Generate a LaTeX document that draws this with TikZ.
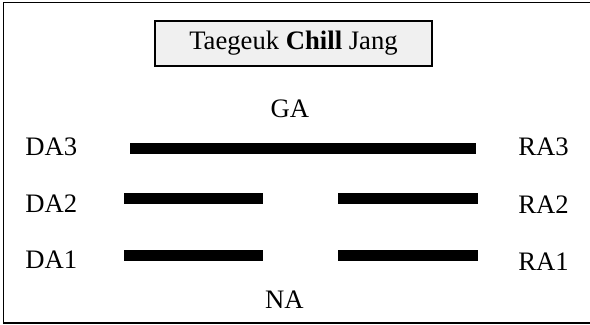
\documentclass[tikz,border=0pt]{standalone}
\usepackage{fontspec}
\setmainfont{Liberation Serif}
\usetikzlibrary{positioning}
\begin{document}
\begin{tikzpicture}[x=0.75pt, y=-0.75pt, font=\fontsize{20}{24}\selectfont,
  lbl/.style={inner sep=0pt, anchor=base west},
  dir/.style={inner sep=0pt, anchor=base},
  bar/.style={fill=black, inner sep=0pt, minimum height=8.25pt}]
\useasboundingbox (0,0) rectangle (590,325);
\draw[line width=1.2pt] (590,2.5) -- (3.5,2.5) -- (3.5,323) -- (590,323);
\node[draw, line width=1.2pt, fill=black!6, minimum width=207.75pt, minimum height=33.75pt] (title) at (293.5,43.5) {Taegeuk \textbf{Chill} Jang};
\node[dir] (ga) at (290,117) {GA};
\node[dir] (na) at (284.5,308) {NA};
\node[bar, minimum width=259.5pt] (bar3) at (303,148.5) {};
\node[bar, minimum width=104.25pt] (bar2l) at (193.5,198) {};
\node[bar, minimum width=105pt] (bar2r) at (408,198) {};
\node[bar, minimum width=104.25pt] (bar1l) at (193.5,255.5) {};
\node[bar, minimum width=105pt] (bar1r) at (408,255.5) {};
\node[lbl] (da3) at (25,155) {DA3};
\node[lbl] (da2) at (25,212) {DA2};
\node[lbl] (da1) at (25,268) {DA1};
\node[lbl] (ra3) at (518,155) {RA3};
\node[lbl] (ra2) at (518,213) {RA2};
\node[lbl] (ra1) at (518,270) {RA1};
\end{tikzpicture}
\end{document}
